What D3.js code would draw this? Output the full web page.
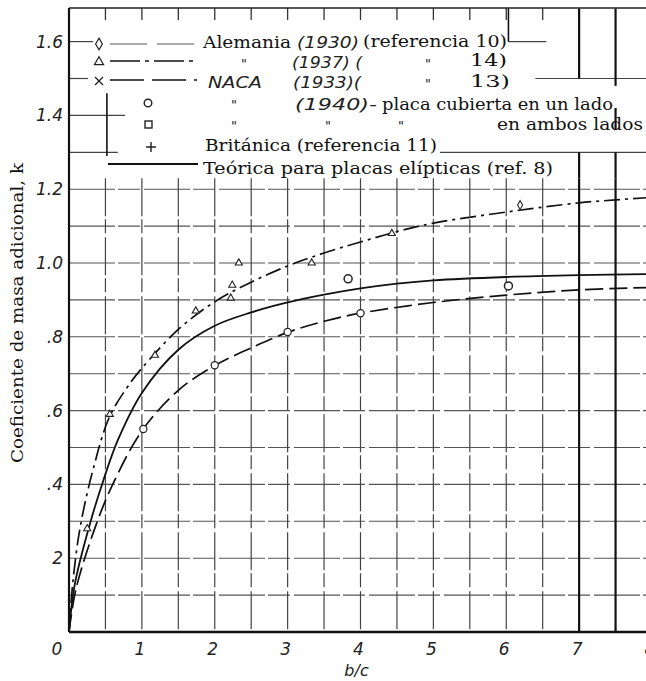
<!DOCTYPE html>
<html>
<head>
<meta charset="utf-8">
<script src="https://cdn.jsdelivr.net/npm/d3@7"></script>
<style>
  body { margin: 0; background: #fff; }
  svg { display: block; }
  .serif { font-family: "DejaVu Serif", serif; fill: #111; }
  .ital { font-family: "DejaVu Sans", sans-serif; font-style: italic; fill: #222; }
</style>
</head>
<body>
<script>
var width = 646, height = 681;

// curves: [b/c, k]
var teorica = [[0,0],[0.08,0.13],[0.29,0.295],[0.47,0.41],[0.67,0.52],[1,0.648],[1.5,0.765],
  [2,0.83],[2.5,0.866],[3,0.893],[3.5,0.914],[4,0.931],[4.5,0.944],[5,0.953],[6,0.962],[7,0.967],[8,0.97]];
var alemania37 = [[0,0],[0.05,0.13],[0.15,0.28],[0.33,0.44],[0.56,0.585],[0.86,0.68],[1,0.715],[1.5,0.82],
  [2,0.895],[2.5,0.948],[3,0.992],[3.5,1.027],[4,1.057],[4.5,1.085],[5,1.108],[6,1.138],[7,1.163],[7.5,1.171],[8,1.178]];
var naca33 = [[0,0],[0.1,0.12],[0.38,0.295],[0.6,0.40],[1,0.545],[1.5,0.655],[2,0.722],[2.5,0.77],
  [3,0.812],[3.5,0.842],[4,0.864],[5,0.893],[6,0.913],[7,0.927],[8,0.934]];

// measured points
var ptsTriangulo = [[0.25,0.28],[0.56,0.59],[1.18,0.75],[1.74,0.87],[2.22,0.905],[2.24,0.94],[2.33,1.0],[3.33,1.0],[4.43,1.08]];
var ptsRombo = [[6.19,1.157]];
var ptsNaca = [[1.02,0.55],[2.0,0.723],[3.0,0.813],[4.0,0.864]];
var ptsCirculo = [[3.83,0.957],[6.03,0.938]];

var xTicks = [0,1,2,3,4,5,6,7,8];
var yTicks = [0.2,0.4,0.6,0.8,1.0,1.2,1.4,1.6];
var yTickLabels = ["2",".4",".6",".8","1.0","1.2","1.4","1.6"];
var gridX = [0.5,1,1.5,2,2.5,3,3.5,4,4.5,5,5.5,6,6.5,7,7.5];
var gridY = [0.1,0.2,0.3,0.4,0.5,0.6,0.7,0.8,0.9,1.0,1.1,1.2];

// grid pieces left in the legend area: [x1, x2, k]
var fragH = [[0,0.33,1.6],[6.03,6.55,1.6],[0,0.26,1.5],[6.4,8,1.5],[0,0.77,1.4],[0,0.67,1.3],[5.09,8,1.3]];
// [x, k1, k2]
var fragV = [[6.03,1.69,1.6],[7,1.69,1.5],[7.5,1.69,1.48],[7.5,1.42,1.36],[0.52,1.46,1.29]];

var x = d3.scaleLinear().domain([0, 8]).range([69, 652]);
var y = d3.scaleLinear().domain([0, 1.6]).range([632, 41.6]);

var svg = d3.select("body").append("svg")
    .attr("width", width)
    .attr("height", height);

// grid
svg.selectAll("gridY").data(gridY)
  .enter().append("line")
    .attr("x1", x(0)).attr("x2", width)
    .attr("y1", function(d) { return y(d); })
    .attr("y2", function(d) { return y(d); })
    .attr("stroke", "#555").attr("stroke-width", 1.1)
    .attr("stroke-dasharray", "46,3,22,4");

svg.selectAll("gridX").data(gridX)
  .enter().append("line")
    .attr("x1", function(d) { return x(d); })
    .attr("x2", function(d) { return x(d); })
    .attr("y1", y(1.23)).attr("y2", y(0))
    .attr("stroke", function(d) { return d >= 7 ? "#111" : "#444"; })
    .attr("stroke-width", function(d) { return d >= 7 ? 2.2 : 1.2; })
    .attr("stroke-dasharray", function(d) { return d >= 7 ? null : "38,3,14,4"; });

svg.selectAll("fragH").data(fragH)
  .enter().append("line")
    .attr("x1", function(d) { return x(d[0]); })
    .attr("x2", function(d) { return Math.min(x(d[1]), width); })
    .attr("y1", function(d) { return y(d[2]); })
    .attr("y2", function(d) { return y(d[2]); })
    .attr("stroke", "#444").attr("stroke-width", 1.2);

svg.selectAll("fragV").data(fragV)
  .enter().append("line")
    .attr("x1", function(d) { return x(d[0]); })
    .attr("x2", function(d) { return x(d[0]); })
    .attr("y1", function(d) { return y(d[1]); })
    .attr("y2", function(d) { return y(d[2]); })
    .attr("stroke", "#111")
    .attr("stroke-width", function(d) { return d[0] >= 7 ? 2.2 : 1.6; });

// thick verticals below the legend for 7 and 7.5
svg.selectAll("thickV").data([7, 7.5])
  .enter().append("line")
    .attr("x1", function(d) { return x(d); })
    .attr("x2", function(d) { return x(d); })
    .attr("y1", y(1.3)).attr("y2", y(1.23))
    .attr("stroke", "#111").attr("stroke-width", 2.2);

// top ticks
svg.selectAll("topTick").data(gridX)
  .enter().append("line")
    .attr("x1", function(d) { return x(d); })
    .attr("x2", function(d) { return x(d); })
    .attr("y1", 8).attr("y2", function(d) { return d >= 7 ? 8 : 20; })
    .attr("stroke", "#333").attr("stroke-width", 1.3);

// frame
svg.append("line").attr("x1", x(0)).attr("x2", width).attr("y1", 8).attr("y2", 8)
    .attr("stroke", "#222").attr("stroke-width", 1.6);
svg.append("line").attr("x1", x(0)).attr("x2", x(0)).attr("y1", 8).attr("y2", y(0))
    .attr("stroke", "#111").attr("stroke-width", 2.2);
svg.append("line").attr("x1", x(0)).attr("x2", width).attr("y1", y(0)).attr("y2", y(0))
    .attr("stroke", "#111").attr("stroke-width", 2.6);

// curves
var line = d3.line()
    .x(function(d) { return x(d[0]); })
    .y(function(d) { return y(d[1]); })
    .curve(d3.curveCatmullRom.alpha(0.5));

svg.append("path").datum(teorica)
    .attr("d", line).attr("fill", "none")
    .attr("stroke", "#111").attr("stroke-width", 1.8);
svg.append("path").datum(alemania37)
    .attr("d", line).attr("fill", "none")
    .attr("stroke", "#111").attr("stroke-width", 1.7)
    .attr("stroke-dasharray", "16,5,3,5");
svg.append("path").datum(naca33)
    .attr("d", line).attr("fill", "none")
    .attr("stroke", "#111").attr("stroke-width", 1.7)
    .attr("stroke-dasharray", "18,6");

// markers
var sym = function(type, size) {
  return d3.symbol().type(type).size(size);
};
svg.selectAll("tri").data(ptsTriangulo)
  .enter().append("path")
    .attr("d", sym(d3.symbolTriangle, 22))
    .attr("transform", function(d) { return "translate(" + x(d[0]) + "," + y(d[1]) + ")"; })
    .attr("fill", "#fff").attr("stroke", "#222").attr("stroke-width", 1.1);
svg.selectAll("rombo").data(ptsRombo)
  .enter().append("path")
    .attr("d", sym(d3.symbolDiamond, 22))
    .attr("transform", function(d) { return "translate(" + x(d[0]) + "," + y(d[1]) + ")"; })
    .attr("fill", "#fff").attr("stroke", "#222").attr("stroke-width", 1.1);
svg.selectAll("naca").data(ptsNaca)
  .enter().append("circle")
    .attr("cx", function(d) { return x(d[0]); })
    .attr("cy", function(d) { return y(d[1]); })
    .attr("r", 3.6)
    .attr("fill", "#fff").attr("stroke", "#222").attr("stroke-width", 1.2);
svg.selectAll("circ").data(ptsCirculo)
  .enter().append("circle")
    .attr("cx", function(d) { return x(d[0]); })
    .attr("cy", function(d) { return y(d[1]); })
    .attr("r", 4)
    .attr("fill", "#fff").attr("stroke", "#222").attr("stroke-width", 1.5);

// tick labels
svg.selectAll("xLab").data(xTicks)
  .enter().append("text")
    .attr("class", "ital")
    .attr("x", function(d) { return d === 0 ? x(d) - 12 : x(d) - 2; })
    .attr("y", 655)
    .attr("text-anchor", "middle")
    .attr("font-size", 17)
    .text(function(d) { return d; });

svg.selectAll("yLab").data(yTicks)
  .enter().append("text")
    .attr("class", "ital")
    .attr("x", 63)
    .attr("y", function(d) { return y(d) + 6; })
    .attr("text-anchor", "end")
    .attr("font-size", 17)
    .text(function(d, i) { return yTickLabels[i]; });

svg.append("text").attr("class", "ital")
    .attr("x", x(4) - 4).attr("y", 676)
    .attr("text-anchor", "middle").attr("font-size", 16)
    .text("b/c");

svg.append("text").attr("class", "serif")
    .attr("transform", "translate(23,313) rotate(-90)")
    .attr("text-anchor", "middle").attr("font-size", 16)
    .attr("textLength", 300).attr("lengthAdjust", "spacingAndGlyphs")
    .text("Coeficiente de masa adicional, k");

// legend
var lg = svg.append("g");
function lline(x1, x2, yy, dash, w, col) {
  lg.append("line").attr("x1", x1).attr("x2", x2).attr("y1", yy).attr("y2", yy)
    .attr("stroke", col || "#111").attr("stroke-width", w || 1.6)
    .attr("stroke-dasharray", dash);
}
function ltext(cls, tx, ty, s, size, len) {
  var t = lg.append("text").attr("class", cls).attr("x", tx).attr("y", ty)
    .attr("font-size", size).text(s);
  if (len) t.attr("textLength", len).attr("lengthAdjust", "spacingAndGlyphs");
  return t;
}
lline(110, 194, 44, "37,10", 1.1, "#555");
lline(110, 195, 61, "30,5,4,5", 1.6);
lline(110, 197, 80, "34,8", 1.6);
lline(108, 198, 164, null, 2);

lg.append("path").attr("d", sym(d3.symbolDiamond, 40)).attr("transform", "translate(99,44)")
  .attr("fill", "#fff").attr("stroke", "#222").attr("stroke-width", 1.2);
lg.append("path").attr("d", sym(d3.symbolTriangle, 36)).attr("transform", "translate(99,62)")
  .attr("fill", "#fff").attr("stroke", "#222").attr("stroke-width", 1.2);
lg.append("path").attr("d", "M-4,-4L4,4M-4,4L4,-4").attr("transform", "translate(99,81)")
  .attr("fill", "none").attr("stroke", "#222").attr("stroke-width", 1.3);
lg.append("circle").attr("cx", 148).attr("cy", 103).attr("r", 3.8)
  .attr("fill", "#fff").attr("stroke", "#222").attr("stroke-width", 1.4);
lg.append("rect").attr("x", 145).attr("y", 121).attr("width", 7).attr("height", 7)
  .attr("fill", "#fff").attr("stroke", "#222").attr("stroke-width", 1.4);
lg.append("path").attr("d", "M-5,0L5,0M0,-5L0,5").attr("transform", "translate(151,147)")
  .attr("fill", "none").attr("stroke", "#222").attr("stroke-width", 1.4);

ltext("serif", 203, 48, "Alemania", 16, 88);
ltext("ital", 297, 48, "(1930)", 15, 62);
ltext("serif", 363, 47, "(referencia 10)", 16, 144);

ltext("ital", 241, 68, "\"", 13);
ltext("ital", 292, 68, "(1937) (", 15, 70);
ltext("ital", 425, 68, "\"", 13);
ltext("serif", 470, 66, "14)", 16, 37);

ltext("ital", 208, 88, "NACA", 15, 54);
ltext("ital", 293, 88, "(1933)(", 15, 68);
ltext("ital", 425, 88, "\"", 13);
ltext("serif", 470, 87, "13)", 16, 40);

ltext("ital", 231, 109, "\"", 13);
ltext("ital", 295, 110, "(1940)-", 15, 82);
ltext("serif", 382, 110, "placa cubierta en un lado", 16, 231);

ltext("ital", 231, 130, "\"", 13);
ltext("ital", 325, 130, "\"", 13);
ltext("ital", 398, 130, "\"", 13);
ltext("serif", 497, 130, "en ambos lados", 16, 146);

ltext("serif", 205, 151, "Británica (referencia 11)", 16, 232);
ltext("serif", 203, 174, "Teórica para placas elípticas (ref. 8)", 17, 350);
</script>
</body>
</html>
